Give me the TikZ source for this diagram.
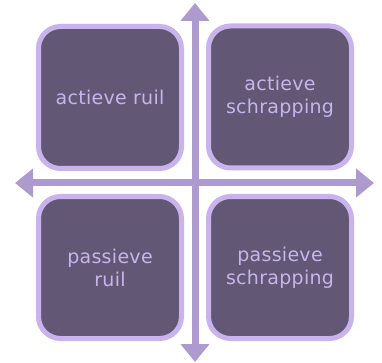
\documentclass[tikz,border=0pt]{standalone}
\usepackage{fontspec}
\setmainfont{DejaVu Sans}[LetterSpace=1.5]
\usetikzlibrary{arrows.meta}

\definecolor{kwfill}{HTML}{625876}
\definecolor{kwrand}{HTML}{C9B3EC}
\definecolor{kwas}{HTML}{AD9BD0}
\definecolor{kwtekst}{HTML}{C8B4EA}

\tikzset{
  kwadrant/.style={draw=kwrand, line width=5pt, fill=kwfill, rounded corners=22pt,
    minimum width=143pt, minimum height=142pt, text=kwtekst, align=center,
    font=\fontsize{19}{23}\selectfont},
  as/.style={draw=kwas, line width=7pt, -{Triangle[width=28pt,length=18pt]}}
}

\begin{document}
\begin{tikzpicture}[x=1pt,y=-1pt]
			\useasboundingbox (0,0) rectangle (382,363);
			% vier kwadranten
			\node[kwadrant] (ar) at (110,97.5) {actieve ruil};
			\node[kwadrant] (as) at (280,97) {actieve\\schrapping};
			\node[kwadrant] (pr) at (110,267.5) {passieve\\ruil};
			\node[kwadrant] (ps) at (280,267.5) {passieve\\schrapping};
			% assenkruis
			\coordinate (boven) at (195,3);
			\coordinate (onder) at (195,362);
			\coordinate (links) at (15,183);
			\coordinate (rechts) at (374,183);
			\coordinate (midden) at (195,183);
			\draw[as] (midden) -- (boven);
			\draw[as] (midden) -- (onder);
			\draw[as] (midden) -- (links);
			\draw[as] (midden) -- (rechts);
		\end{tikzpicture}
\end{document}
